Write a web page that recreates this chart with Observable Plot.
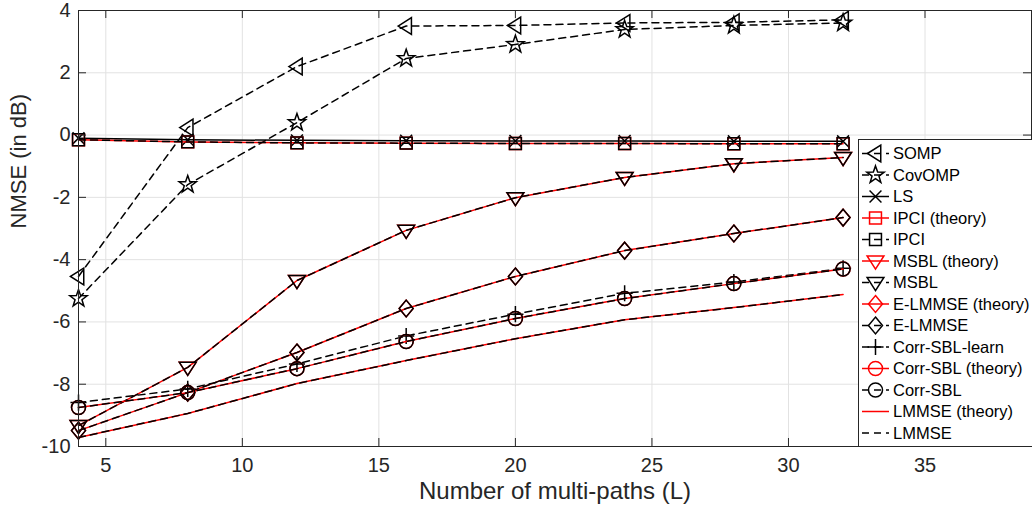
<!DOCTYPE html>
<html><head><meta charset="utf-8">
<script src="https://cdn.jsdelivr.net/npm/d3@7"></script>
<script src="https://cdn.jsdelivr.net/npm/@observablehq/plot@0.6"></script>
<style>
body{margin:0;background:#fff;}
#wrap{position:relative;width:1032px;height:516px;overflow:hidden;font-family:"Liberation Sans",Arial,Helvetica,sans-serif;}
</style></head><body><div id="wrap"></div>
<script>
// ---- data ----
const L = [4, 8, 12, 16, 20, 24, 28, 32];
const somp        = [-4.54, 0.24, 2.20, 3.50, 3.52, 3.60, 3.62, 3.70];
const covomp      = [-5.25, -1.59, 0.40, 2.46, 2.91, 3.39, 3.52, 3.60];
const ls          = [-0.10, -0.15, -0.17, -0.18, -0.19, -0.19, -0.20, -0.20];
const ipciTheory  = [-0.15, -0.22, -0.25, -0.26, -0.27, -0.27, -0.28, -0.28];
const ipci        = [-0.15, -0.22, -0.25, -0.26, -0.27, -0.27, -0.28, -0.28];
const msblTheory  = [-9.33, -7.46, -4.67, -3.06, -2.01, -1.36, -0.92, -0.72];
const msbl        = [-9.33, -7.46, -4.67, -3.06, -2.01, -1.36, -0.92, -0.72];
const elmmseTheory= [-9.49, -8.27, -6.98, -5.57, -4.54, -3.71, -3.16, -2.65];
const elmmse      = [-9.49, -8.27, -6.98, -5.57, -4.54, -3.71, -3.16, -2.65];
const corrLearn   = [-8.59, -8.15, -7.35, -6.45, -5.75, -5.08, -4.72, -4.28];
const corrTheory  = [-8.75, -8.27, -7.50, -6.63, -5.89, -5.25, -4.77, -4.30];
const corr        = [-8.75, -8.27, -7.50, -6.63, -5.89, -5.25, -4.77, -4.30];
const lmmseTheory = [-9.71, -8.94, -7.98, -7.24, -6.54, -5.93, -5.54, -5.12];
const lmmse       = [-9.71, -8.94, -7.98, -7.24, -6.54, -5.93, -5.54, -5.12];

const names = ["SOMP","CovOMP","LS","IPCI (theory)","IPCI","MSBL (theory)","MSBL",
  "E-LMMSE (theory)","E-LMMSE","Corr-SBL-learn","Corr-SBL (theory)","Corr-SBL","LMMSE (theory)","LMMSE"];
const values = [somp,covomp,ls,ipciTheory,ipci,msblTheory,msbl,elmmseTheory,elmmse,corrLearn,corrTheory,corr,lmmseTheory,lmmse];

const xTicks = [5, 10, 15, 20, 25, 30, 35];
const yTicks = [-10, -8, -6, -4, -2, 0, 2, 4];
const xLabel = "Number of multi-paths (L)";
const yLabel = "NMSE (in dB)";

// ---- styles ----
const RED = "#ff0000", BLK = "#000000";
const styles = [
  {c:BLK,d:true,m:"triLeft"},{c:BLK,d:true,m:"star"},{c:BLK,d:false,m:"times"},
  {c:RED,d:false,m:"square"},{c:BLK,d:true,m:"square"},
  {c:RED,d:false,m:"triDown"},{c:BLK,d:true,m:"triDown"},
  {c:RED,d:false,m:"diamond"},{c:BLK,d:true,m:"diamond"},
  {c:BLK,d:true,m:"plus"},
  {c:RED,d:false,m:"circle"},{c:BLK,d:true,m:"circle"},
  {c:RED,d:false,m:null},{c:BLK,d:true,m:null}
];
const DASH = "7,5";

function mk(fn){return {draw(ctx,size){const r=Math.sqrt(size/Math.PI); fn(ctx,r);}};}
const SYM = {
  triLeft: mk((c,r)=>{c.moveTo(-1.15*r,0);c.lineTo(0.75*r,-1.2*r);c.lineTo(0.75*r,1.2*r);c.closePath();}),
  triDown: mk((c,r)=>{c.moveTo(-1.2*r,-0.72*r);c.lineTo(1.2*r,-0.72*r);c.lineTo(0,1.15*r);c.closePath();}),
  star: mk((c,r)=>{const R=1.3*r, ri=R*0.40; for(let i=0;i<10;i++){const a=-Math.PI/2+i*Math.PI/5; const rr=i%2?ri:R; const x=rr*Math.cos(a), y=rr*Math.sin(a); if(i) c.lineTo(x,y); else c.moveTo(x,y);} c.closePath();}),
  times: mk((c,r)=>{const s=0.85*r; c.moveTo(-s,-s);c.lineTo(s,s);c.moveTo(-s,s);c.lineTo(s,-s);}),
  square: mk((c,r)=>{const s=0.85*r; c.moveTo(-s,-s);c.lineTo(s,-s);c.lineTo(s,s);c.lineTo(-s,s);c.closePath();}),
  diamond: mk((c,r)=>{c.moveTo(0,-1.2*r);c.lineTo(r,0);c.lineTo(0,1.2*r);c.lineTo(-r,0);c.closePath();}),
  plus: mk((c,r)=>{const s=1.15*r; c.moveTo(-s,0);c.lineTo(s,0);c.moveTo(0,-s);c.lineTo(0,s);}),
  circle: mk((c,r)=>{c.moveTo(r,0);c.arc(0,0,r,0,2*Math.PI);c.closePath();})
};
const R = 7;

const W=1032, H=516, mT=10, mB=70, mL=78, mR=1;
const innerW = W-mL-mR, innerH = H-mT-mB;
const AX = "#262626";
const TL = 8;

const seriesMarks = [];
names.forEach((n,i)=>{
  const rows = L.map((x,j)=>({x, y: values[i][j]}));
  const s = styles[i];
  seriesMarks.push(Plot.line(rows, {x:"x", y:"y", stroke:s.c, strokeWidth:1.5, strokeDasharray: s.d ? DASH : null}));
  if (s.m) seriesMarks.push(Plot.dot(rows, {x:"x", y:"y", symbol:SYM[s.m], r:R, stroke:s.c, fill:"none", strokeWidth:1.5}));
});

const chart = Plot.plot({
  width: W, height: H, marginTop: mT, marginBottom: mB, marginLeft: mL, marginRight: mR,
  style: {fontFamily: '"Liberation Sans", Arial, sans-serif', background: "#fff", color: AX, overflow: "visible"},
  x: {domain: [4, 38.9]},
  y: {domain: [-10, 4]},
  marks: [
    Plot.gridX(xTicks, {stroke:"#e2e2e2", strokeOpacity:1}),
    Plot.gridY(yTicks, {stroke:"#e2e2e2", strokeOpacity:1}),
    ...seriesMarks,
    Plot.tickX(xTicks, {x:d=>d, insetTop: innerH-TL, stroke: AX}),
    Plot.tickX(xTicks, {x:d=>d, insetBottom: innerH-TL, stroke: AX}),
    Plot.tickY(yTicks, {y:d=>d, insetRight: innerW-TL, stroke: AX}),
    Plot.tickY(yTicks, {y:d=>d, insetLeft: innerW-TL, stroke: AX}),
    Plot.frame({stroke: AX, strokeWidth: 1}),
    Plot.axisX(xTicks, {tickSize:0, tickPadding:11, fontSize:20, tickFormat:d=>String(d), label:null}),
    Plot.axisY(yTicks, {tickSize:0, tickPadding:8, fontSize:20, tickFormat:d=>String(d), label:null}),
    Plot.text([xLabel], {text:d=>d, frameAnchor:"bottom", dy:52, fontSize:24, fill:AX}),
    Plot.text([yLabel], {text:d=>d, frameAnchor:"left", dx:-60, rotate:-90, fontSize:22, fill:AX})
  ]
});
const wrap = document.getElementById("wrap");
wrap.appendChild(chart);

// ---- legend ----
const LX=858, LY=139, LW=200, LH=307;
const lg = d3.create("svg").attr("width", W-LX).attr("height", LH+1)
  .style("position","absolute").style("left",LX+"px").style("top",LY+"px");
lg.append("rect").attr("x",0.5).attr("y",0.5).attr("width",LW).attr("height",LH)
  .attr("fill","#fff").attr("stroke",AX).attr("stroke-width",1);
names.forEach((n,i)=>{
  const s = styles[i];
  const g = lg.append("g").attr("transform",`translate(0,${14.5+i*21.5})`);
  g.append("line").attr("x1",4).attr("x2",31).attr("y1",0).attr("y2",0)
    .attr("stroke",s.c).attr("stroke-width",1.5).attr("stroke-dasharray", s.d ? DASH : null);
  if (s.m) g.append("path").attr("transform","translate(17.5,0)")
    .attr("d", d3.symbol(SYM[s.m], Math.PI*R*R)()).attr("fill","none").attr("stroke",s.c).attr("stroke-width",1.5);
  g.append("text").attr("x",35).attr("y",0).attr("dy","0.36em").attr("font-size",16.5)
    .attr("fill",BLK).attr("font-family",'"Liberation Sans", Arial, sans-serif').text(n);
});
wrap.appendChild(lg.node());
</script></body></html>
